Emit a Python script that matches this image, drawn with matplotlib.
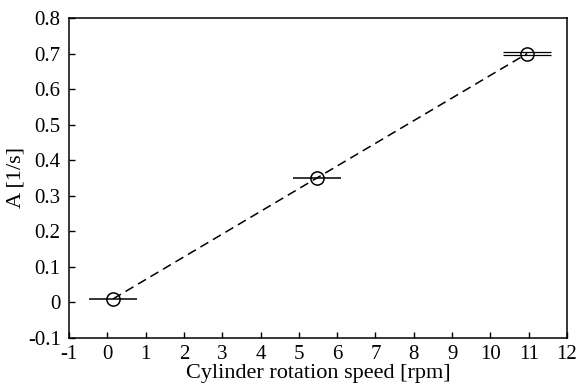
import matplotlib
matplotlib.use("Agg")
import matplotlib.pyplot as plt

# data
speed = [0.15, 5.47, 10.96]
amp = [0.01, 0.35, 0.70]
speed_err = [0.62, 0.62, 0.62]
# the last point shows two overlapping error bars
amp_last_pair = [0.697, 0.704]

plt.rcParams['font.family'] = ['Liberation Serif', 'DejaVu Serif']
plt.rcParams['axes.unicode_minus'] = False

fig = plt.figure(figsize=(5.79, 3.86), dpi=100)
ax = fig.add_axes([69 / 579, 48 / 386, 498 / 579, 320 / 386])

ax.plot(speed, amp, color='black', linestyle='--', linewidth=1.1, dashes=(6, 3.5))
ax.errorbar(speed[:2], amp[:2], xerr=speed_err[:2], fmt='none', ecolor='black', elinewidth=1.1)
for yy in amp_last_pair:
    ax.errorbar([speed[2]], [yy], xerr=[speed_err[2]], fmt='none', ecolor='black', elinewidth=0.9)
ax.plot(speed, amp, linestyle='none', marker='o', markersize=9.5,
        markerfacecolor='none', markeredgecolor='black', markeredgewidth=1.1)

ax.set_xlim(-1, 12)
ax.set_ylim(-0.1, 0.8)
ax.set_xticks(range(-1, 13))
ax.set_yticks([i / 10 for i in range(-1, 9)])
ax.set_yticklabels(['-0.1', '0', '0.1', '0.2', '0.3', '0.4', '0.5', '0.6', '0.7', '0.8'])
ax.tick_params(direction='in', length=4, width=1, labelsize=15, top=False, right=False)
ax.tick_params(axis='x', pad=5)
ax.tick_params(axis='y', pad=6)
for s in ax.spines.values():
    s.set_linewidth(1.1)

ax.set_xlabel('Cylinder rotation speed [rpm]', fontsize=16, labelpad=0)
ax.set_ylabel('A [1/s]', fontsize=16, labelpad=2)

plt.savefig('out.png', dpi=100)
plt.close(fig)
